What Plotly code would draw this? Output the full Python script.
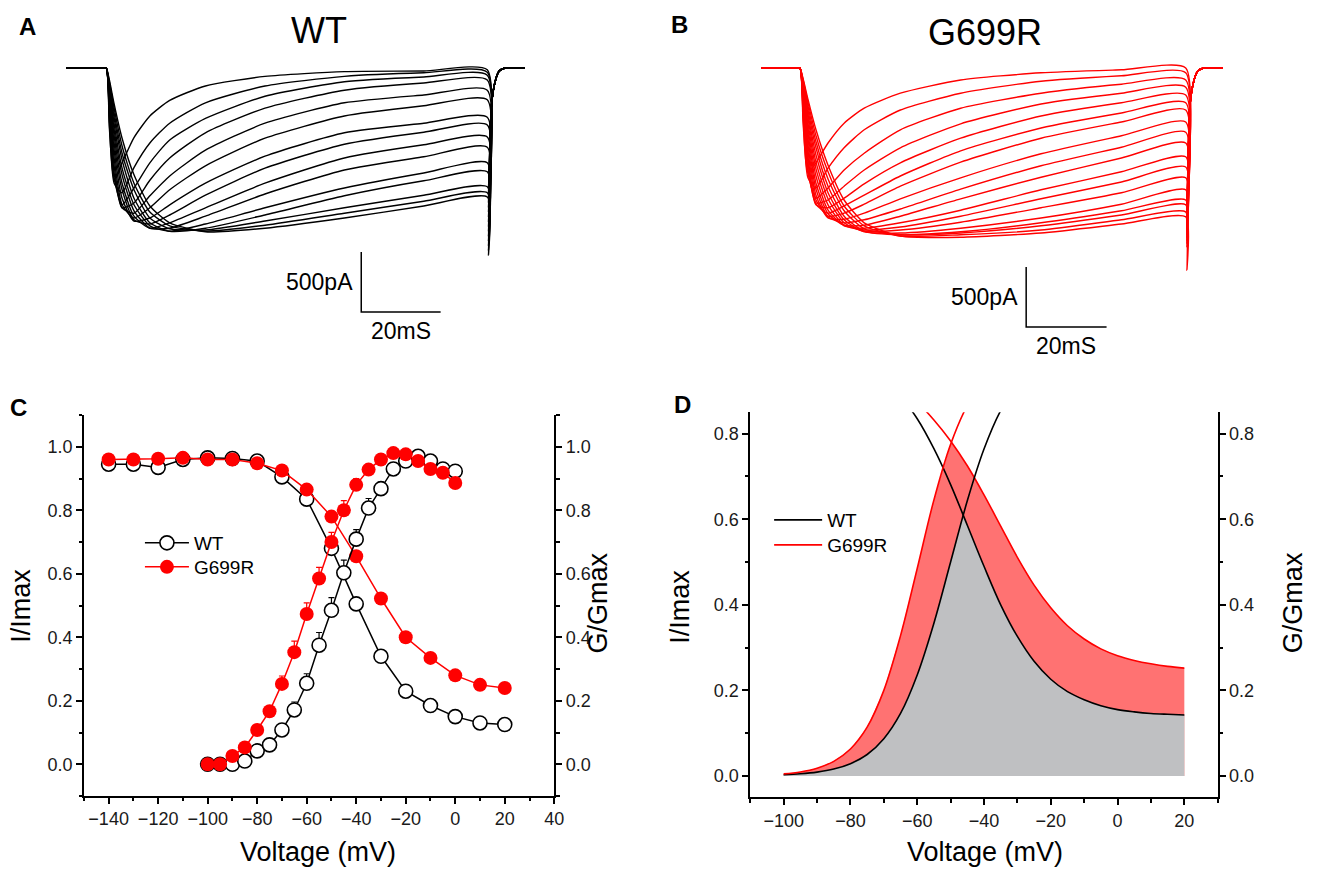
import plotly.graph_objects as go
import numpy as np

W, H = 1321, 869
FONT = "Liberation Sans, Arial, sans-serif"
RED = "#ff0000"

# ---------------- Panels A / B : current families (time ms, current pA) ----------------
TRACE_T = [-10, -5, -1, 0, 0.8, 2, 4, 7, 11, 16, 25, 40, 60, 80, 96, 96.3, 97, 98, 99, 100.5, 102, 105.5]
PRE = [0, 0, 0, 0]
TAIL_RELAX = [-330, -110, -25, 0, 0, 0]

WT_BODY = [
    [-500, -930, -790, -580, -400, -270, -150, -70, -30, -25, -15],
    [-460, -960, -1040, -830, -625, -460, -290, -150, -70, -40, -35],
    [-420, -920, -1140, -1000, -790, -600, -420, -235, -115, -75, -60],
    [-375, -875, -1165, -1125, -935, -750, -540, -335, -185, -125, -100],
    [-335, -815, -1165, -1210, -1065, -900, -685, -460, -290, -225, -185],
    [-300, -750, -1140, -1250, -1165, -1015, -815, -585, -400, -315, -265],
    [-265, -685, -1085, -1275, -1250, -1140, -960, -735, -540, -460, -410],
    [-235, -625, -1015, -1265, -1300, -1225, -1060, -835, -635, -535, -475],
    [-210, -565, -960, -1235, -1335, -1290, -1165, -960, -750, -640, -575],
    [-185, -515, -890, -1190, -1335, -1335, -1235, -1050, -850, -740, -660],
    [-165, -465, -835, -1140, -1315, -1360, -1300, -1165, -1000, -875, -790],
    [-150, -415, -765, -1085, -1290, -1360, -1335, -1225, -1065, -940, -865],
    [-135, -375, -710, -1015, -1250, -1340, -1350, -1275, -1165, -1060, -990],
    [-115, -335, -650, -960, -1200, -1315, -1360, -1310, -1210, -1110, -1040],
    [-100, -300, -585, -890, -1150, -1290, -1365, -1335, -1250, -1150, -1075],
]
WT_SPIKE = [-1000, -1040, -1080, -1120, -1160, -1200, -1240, -1280, -1320, -1360,
            -1400, -1440, -1480, -1520, -1560]

G_BODY = [
    [-460, -875, -790, -625, -460, -335, -210, -100, -40, -15, 0],
    [-415, -915, -1000, -835, -665, -515, -350, -210, -110, -65, -40],
    [-385, -875, -1085, -1000, -850, -710, -515, -335, -210, -135, -100],
    [-350, -835, -1125, -1100, -985, -850, -665, -465, -300, -210, -160],
    [-315, -785, -1140, -1165, -1085, -965, -790, -585, -400, -290, -225],
    [-290, -735, -1135, -1210, -1150, -1060, -900, -690, -500, -375, -290],
    [-265, -685, -1100, -1235, -1210, -1135, -985, -785, -585, -450, -350],
    [-240, -635, -1060, -1250, -1260, -1210, -1090, -915, -715, -565, -450],
    [-215, -585, -1010, -1240, -1290, -1265, -1175, -1010, -815, -660, -535],
    [-200, -540, -960, -1215, -1310, -1310, -1235, -1090, -910, -750, -625],
    [-185, -500, -900, -1185, -1315, -1335, -1290, -1185, -1015, -865, -740],
    [-165, -460, -840, -1140, -1310, -1350, -1325, -1235, -1090, -950, -825],
    [-150, -415, -785, -1090, -1290, -1360, -1350, -1285, -1165, -1040, -915],
    [-135, -385, -725, -1040, -1265, -1365, -1375, -1335, -1250, -1135, -1015],
    [-125, -350, -665, -985, -1235, -1360, -1390, -1365, -1290, -1190, -1100],
    [-110, -315, -615, -925, -1190, -1340, -1390, -1375, -1315, -1225, -1140],
    [-100, -285, -565, -865, -1150, -1315, -1400, -1390, -1350, -1265, -1200],
    [-90, -260, -515, -810, -1100, -1290, -1400, -1410, -1375, -1300, -1240],
]
G_SPIKE = [-1085, -1110, -1135, -1160, -1185, -1210, -1235, -1260, -1285, -1310,
           -1335, -1360, -1385, -1410, -1435, -1460, -1490, -1685]

SCALE_PA = 500
SCALE_MS = 20

# ---------------- Panel C : measured data ----------------
INACT_V = [-140, -130, -120, -110, -100, -90, -80, -70, -60, -50, -40, -30, -20, -10, 0, 10, 20]
WT_INACT = [0.945, 0.945, 0.935, 0.96, 0.965, 0.963, 0.955, 0.905, 0.835, 0.68, 0.505,
            0.34, 0.23, 0.185, 0.15, 0.13, 0.125]
WT_INACT_ERR = [0.01, 0.01, 0.015, 0.01, 0.01, 0.01, 0.008, 0.01, 0.012, 0.015, 0.012,
                0.01, 0.012, 0.008, 0.01, 0.01, 0.01]
G_INACT = [0.96, 0.96, 0.962, 0.965, 0.96, 0.96, 0.948, 0.925, 0.865, 0.78, 0.655,
           0.522, 0.40, 0.335, 0.28, 0.25, 0.24]
G_INACT_ERR = [0.008, 0.008, 0.008, 0.008, 0.008, 0.008, 0.008, 0.008, 0.01, 0.01, 0.01,
               0.01, 0.01, 0.01, 0.01, 0.01, 0.01]

ACT_V = [-100, -95, -90, -85, -80, -75, -70, -65, -60, -55, -50, -45, -40, -35, -30,
         -25, -20, -15, -10, -5, 0]
WT_ACT = [0.0, 0.0, 0.0, 0.01, 0.042, 0.061, 0.108, 0.171, 0.255, 0.375, 0.485, 0.603,
          0.709, 0.807, 0.868, 0.93, 0.955, 0.97, 0.955, 0.93, 0.923]
WT_ACT_ERR = [0.005, 0.005, 0.01, 0.01, 0.01, 0.01, 0.01, 0.025, 0.03, 0.04, 0.04, 0.04,
              0.03, 0.03, 0.02, 0.015, 0.02, 0.015, 0.015, 0.01, 0.01]
G_ACT = [0.0, 0.0, 0.026, 0.053, 0.108, 0.167, 0.253, 0.353, 0.473, 0.585, 0.70, 0.80,
         0.88, 0.928, 0.96, 0.98, 0.976, 0.955, 0.93, 0.918, 0.886]
G_ACT_ERR = [0.005, 0.005, 0.01, 0.01, 0.01, 0.01, 0.025, 0.035, 0.035, 0.035, 0.03, 0.03,
             0.02, 0.015, 0.01, 0.01, 0.01, 0.01, 0.01, 0.01, 0.01]

# ---------------- Panel D : fitted curves ----------------
FIT_V = [-100, -95, -90, -85, -80, -75, -70, -65, -60, -55, -50, -45, -40, -35, -30,
         -25, -20, -15, -10, -5, 0, 5, 10, 15, 20]
WT_ACT_FIT = [0.0028, 0.005, 0.0089, 0.016, 0.0286, 0.05, 0.087, 0.146, 0.236, 0.357, 0.5,
              0.643, 0.764, 0.854, 0.913, 0.95, 0.972, 0.984, 0.991, 0.995, 0.997, 0.998,
              0.999, 0.9995, 1.0]
WT_INACT_FIT = [0.995, 0.992, 0.987, 0.979, 0.968, 0.951, 0.926, 0.887, 0.835, 0.765, 0.681,
                0.586, 0.49, 0.40, 0.326, 0.268, 0.226, 0.197, 0.178, 0.164, 0.155, 0.1497,
                0.146, 0.144, 0.1425]
G_ACT_FIT = [0.0048, 0.0093, 0.018, 0.034, 0.063, 0.114, 0.2, 0.328, 0.485, 0.645, 0.775,
             0.866, 0.925, 0.96, 0.979, 0.989, 0.994, 0.997, 0.9985, 0.9993, 1.0, 1.0,
             1.0, 1.0, 1.0]
G_INACT_FIT = [0.994, 0.991, 0.987, 0.98, 0.97, 0.955, 0.935, 0.908, 0.874, 0.832, 0.783,
               0.725, 0.657, 0.584, 0.511, 0.446, 0.393, 0.351, 0.32, 0.297, 0.281, 0.27,
               0.262, 0.256, 0.252]

fig = go.Figure()

# ---- A traces ----
for body, spk in zip(WT_BODY, WT_SPIKE):
    fig.add_trace(go.Scatter(x=TRACE_T, y=PRE + body + [spk] + TAIL_RELAX,
                             mode="lines", line=dict(color="black", width=1.4, shape="spline", smoothing=0.6),
                             xaxis="x", yaxis="y", showlegend=False, hoverinfo="skip"))
# ---- B traces ----
for body, spk in zip(G_BODY, G_SPIKE):
    fig.add_trace(go.Scatter(x=TRACE_T, y=PRE + body + [spk] + TAIL_RELAX,
                             mode="lines", line=dict(color=RED, width=1.4, shape="spline", smoothing=0.6),
                             xaxis="x2", yaxis="y2", showlegend=False, hoverinfo="skip"))

# scale bars
A_BAR_T, A_BAR_I = 64.25, -1533
B_BAR_T, B_BAR_I = 56.3, -1658
for ax, ay, bt, bi in (("x", "y", A_BAR_T, A_BAR_I), ("x2", "y2", B_BAR_T, B_BAR_I)):
    fig.add_trace(go.Scatter(x=[bt, bt, bt + SCALE_MS], y=[bi, bi - SCALE_PA, bi - SCALE_PA],
                             mode="lines", line=dict(color="black", width=1.5),
                             xaxis=ax, yaxis=ay, showlegend=False, hoverinfo="skip"))

# ---- C ----
def c_trace(x, y, err, up, color, filled, yaxis, name, show, legend):
    eb = dict(type="data", symmetric=False, color=color, thickness=1.2, width=3)
    if up:
        eb.update(array=err, arrayminus=[0] * len(err))
    else:
        eb.update(array=[0] * len(err), arrayminus=err)
    marker = dict(size=14, symbol="circle",
                  color=color if filled else "white",
                  line=dict(color=color, width=0 if filled else 1.6))
    return go.Scatter(x=x, y=y, mode="lines+markers", name=name, showlegend=show,
                      legend=legend, line=dict(color=color, width=1.5),
                      marker=marker, error_y=eb, xaxis="x3", yaxis=yaxis)

fig.add_trace(c_trace(INACT_V, WT_INACT, WT_INACT_ERR, False, "black", False, "y3", "WT", True, "legend"))
fig.add_trace(c_trace(ACT_V, WT_ACT, WT_ACT_ERR, True, "black", False, "y4", "WT", False, "legend"))
fig.add_trace(c_trace(INACT_V, G_INACT, G_INACT_ERR, False, RED, True, "y3", "G699R", True, "legend3"))
fig.add_trace(c_trace(ACT_V, G_ACT, G_ACT_ERR, True, RED, True, "y4", "G699R", False, "legend3"))

# ---- D ----
def window(act, inact):
    """Overlap region (min of the two curves), including the crossing point."""
    xs, ys = [], []
    for i in range(len(FIT_V)):
        if i > 0:
            d0 = act[i - 1] - inact[i - 1]
            d1 = act[i] - inact[i]
            if d0 * d1 < 0:
                f = d0 / (d0 - d1)
                xs.append(FIT_V[i - 1] + f * (FIT_V[i] - FIT_V[i - 1]))
                ys.append(act[i - 1] + f * (act[i] - act[i - 1]))
        xs.append(FIT_V[i])
        ys.append(min(act[i], inact[i]))
    return xs, ys

gx, gy = window(G_ACT_FIT, G_INACT_FIT)
wx, wy = window(WT_ACT_FIT, WT_INACT_FIT)
fig.add_trace(go.Scatter(x=gx, y=gy, mode="lines", fill="tozeroy",
                         fillcolor="#ff7272", line=dict(width=0),
                         xaxis="x5", yaxis="y5", showlegend=False, hoverinfo="skip"))
fig.add_trace(go.Scatter(x=wx, y=wy, mode="lines", fill="tozeroy",
                         fillcolor="#bfc0c2", line=dict(width=0),
                         xaxis="x5", yaxis="y5", showlegend=False, hoverinfo="skip"))
for ys, color, name, show, yax, lg in ((WT_ACT_FIT, "black", "WT", True, "y6", "legend2"),
                                       (WT_INACT_FIT, "black", "WT", False, "y5", "legend2"),
                                       (G_ACT_FIT, RED, "G699R", True, "y6", "legend4"),
                                       (G_INACT_FIT, RED, "G699R", False, "y5", "legend4")):
    fig.add_trace(go.Scatter(x=FIT_V, y=ys, mode="lines", name=name, showlegend=show,
                             legend=lg, line=dict(color=color, width=1.6, shape="spline"),
                             xaxis="x5", yaxis=yax))

# ---------------- layout ----------------
def px_x(p):
    return p / W

def px_y(p):
    return 1 - p / H

tickfont = dict(size=18, family=FONT, color="#1a1a1a")
base_ax = dict(showline=True, linecolor="black", linewidth=1.6, ticks="outside", ticklen=6,
               tickwidth=1.6, tickcolor="black", showgrid=False, zeroline=False,
               tickfont=tickfont, fixedrange=True)
minor_ax = dict(ticks="outside", ticklen=3.5, tickwidth=1.6, tickcolor="black", tick0=0,
                showgrid=False)

hidden = dict(visible=False, showgrid=False, zeroline=False, fixedrange=True)
A_DOM_Y = [px_y(345), px_y(40)]
Y_TR_RANGE = [-(345 - 68) * 500 / 60, (68 - 40) * 500 / 60]

C_DOM_X = [px_x(84.5), px_x(558.5)]
C_DOM_Y = [px_y(796), px_y(415)]
D_DOM_X = [px_x(756), px_x(1227)]
D_DOM_Y = [px_y(797.3), px_y(412.3)]

def leg(x, y, iw):
    return dict(x=px_x(x), y=px_y(y), xanchor="left", yanchor="middle", itemwidth=iw,
                font=dict(size=19, family=FONT, color="black"), bgcolor="rgba(0,0,0,0)",
                tracegroupgap=0)

layout = dict(
    width=W, height=H, margin=dict(l=0, r=0, t=0, b=0),
    paper_bgcolor="white", plot_bgcolor="white",
    font=dict(family=FONT, color="black"),
    xaxis=dict(hidden, domain=[px_x(65), px_x(530)], range=[-10.5, 105.75], anchor="y"),
    yaxis=dict(hidden, domain=A_DOM_Y, range=Y_TR_RANGE, anchor="x"),
    xaxis2=dict(hidden, domain=[px_x(767), px_x(1232)], range=[-9.63, 105.19], anchor="y2"),
    yaxis2=dict(hidden, domain=A_DOM_Y, range=Y_TR_RANGE, anchor="x2"),
    xaxis3=dict(base_ax, domain=C_DOM_X, range=[-150, 40], tickmode="linear", tick0=0, dtick=20,
                anchor="y3", minor=dict(minor_ax, dtick=10)),
    yaxis3=dict(base_ax, domain=C_DOM_Y, range=[-0.1, 1.1], tickmode="linear", tick0=0, dtick=0.2,
                tickformat=".1f", anchor="x3", minor=dict(minor_ax, dtick=0.1)),
    yaxis4=dict(base_ax, domain=C_DOM_Y, range=[-0.1, 1.1], tickmode="linear", tick0=0, dtick=0.2,
                tickformat=".1f", anchor="x3", overlaying="y3", side="right",
                minor=dict(minor_ax, dtick=0.1)),
    xaxis5=dict(base_ax, domain=D_DOM_X, range=[-110, 30], tickmode="linear", tick0=0, dtick=20,
                anchor="y5", minor=dict(minor_ax, dtick=10)),
    yaxis5=dict(base_ax, domain=D_DOM_Y, range=[-0.05, 0.85], tickmode="linear", tick0=0, dtick=0.2,
                tickformat=".1f", anchor="x5", minor=dict(minor_ax, dtick=0.1)),
    yaxis6=dict(base_ax, domain=D_DOM_Y, range=[-0.05, 0.85], tickmode="linear", tick0=0, dtick=0.2,
                tickformat=".1f", anchor="x5", overlaying="y5", side="right",
                minor=dict(minor_ax, dtick=0.1)),
    legend=leg(141, 543, 44),
    legend3=leg(141, 567, 44),
    legend2=leg(775, 520, 48),
    legend4=leg(775, 545, 48),
)
fig.update_layout(**layout)

ann = []
def text(x, y, s, size, bold=False, angle=0, xanchor="center", yanchor="middle"):
    ann.append(dict(x=px_x(x), y=px_y(y), xref="paper", yref="paper", text=f"<b>{s}</b>" if bold else s,
                    showarrow=False, textangle=angle, xanchor=xanchor, yanchor=yanchor,
                    font=dict(size=size, family=FONT, color="black")))

text(28, 27, "A", 24, bold=True)
text(685, 25, "B", 24, bold=True)
text(19, 407, "C", 24, bold=True)
text(688, 405, "D", 24, bold=True)
text(321, 30, "WT", 36)
text(993, 32, "G699R", 36)
# axis titles
text(21, 606, "I/Imax", 27, angle=-90)
text(603, 603, "G/Gmax", 27, angle=-90)
text(320, 852, "Voltage (mV)", 27)
text(685, 607, "I/Imax", 27, angle=-90)
text(1303, 603, "G/Gmax", 27, angle=-90)
text(993, 852, "Voltage (mV)", 27)
fig.update_layout(annotations=ann)

# scale bar labels (data coordinates)
fig.add_annotation(x=A_BAR_T, y=A_BAR_I - SCALE_PA / 2, xref="x", yref="y", text=f"{SCALE_PA}pA",
                   showarrow=False, xanchor="right", xshift=-6, font=dict(size=23, family=FONT))
fig.add_annotation(x=A_BAR_T + SCALE_MS / 2, y=A_BAR_I - SCALE_PA, xref="x", yref="y",
                   text=f"{SCALE_MS}mS", showarrow=False, yanchor="top", yshift=-4,
                   font=dict(size=23, family=FONT))
fig.add_annotation(x=B_BAR_T, y=B_BAR_I - SCALE_PA / 2, xref="x2", yref="y2", text=f"{SCALE_PA}pA",
                   showarrow=False, xanchor="right", xshift=-6, font=dict(size=23, family=FONT))
fig.add_annotation(x=B_BAR_T + SCALE_MS / 2, y=B_BAR_I - SCALE_PA, xref="x2", yref="y2",
                   text=f"{SCALE_MS}mS", showarrow=False, yanchor="top", yshift=-4,
                   font=dict(size=23, family=FONT))

fig.write_html("out.html")
